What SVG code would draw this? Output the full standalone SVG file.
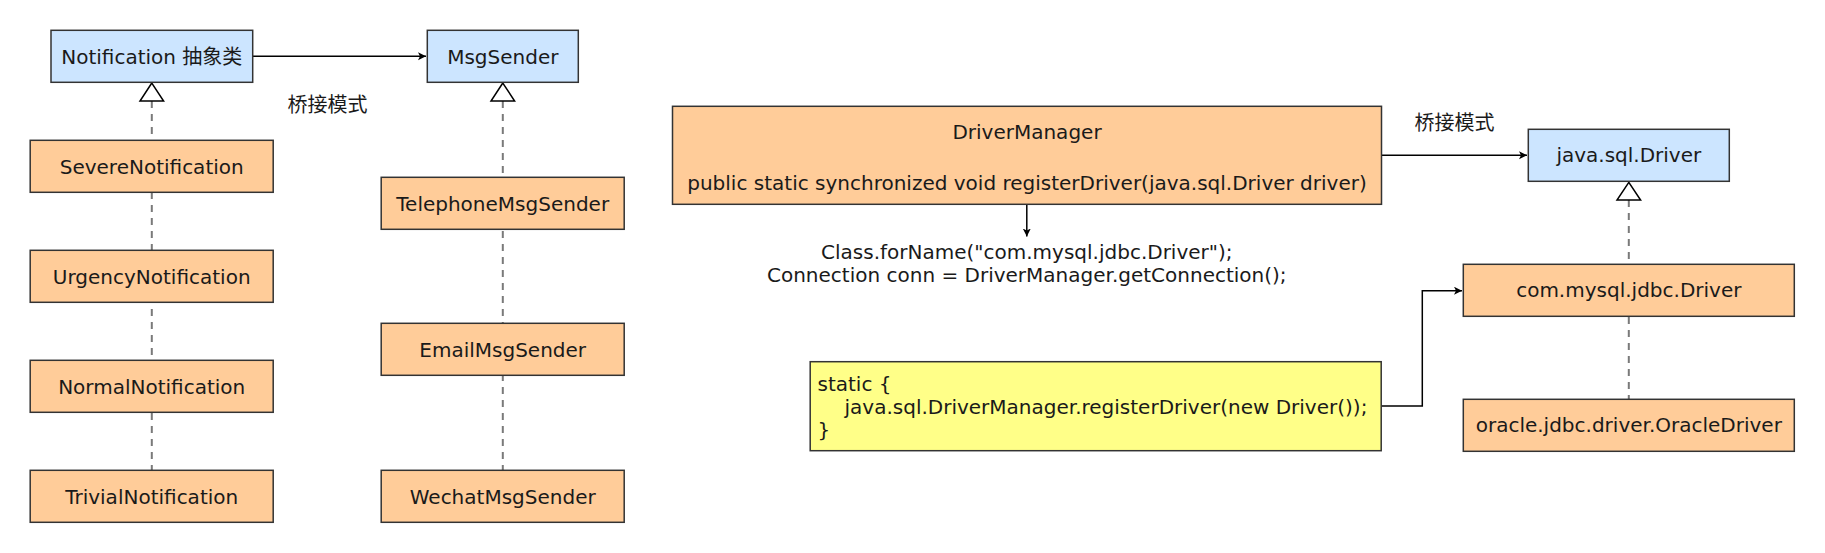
<svg xmlns="http://www.w3.org/2000/svg" width="1825" height="553" viewBox="0 0 1825 553">
<defs>
<style>
.box{stroke:#333;stroke-width:1.5}
.blue{fill:#cce5ff}
.orange{fill:#ffcc99}
.yellow{fill:#ffff88}
text{font-family:"DejaVu Sans","Noto Sans CJK SC",sans-serif;font-size:20px;fill:#1a1a1a}
.c{text-anchor:middle}
.cjk{font-family:"Noto Sans CJK SC",sans-serif}
.edge{fill:none;stroke:#000;stroke-width:1.5}
.dash{fill:none;stroke:#7a7a7a;stroke-width:2;stroke-dasharray:7 6}
.tri{fill:#fff;stroke:#000;stroke-width:1.5}
</style>
<marker id="arr" markerWidth="10" markerHeight="10" refX="8" refY="4" orient="auto" markerUnits="userSpaceOnUse">
<path d="M0,0 L8,4 L0,8 L2,4 z" fill="#000"/>
</marker>
</defs>
<rect width="1825" height="553" fill="#fff"/>
<g id="connectors">
<line class="dash" x1="151.8" y1="101" x2="151.8" y2="470"/>
<line class="dash" x1="502.8" y1="101" x2="502.8" y2="470"/>
<line class="dash" x1="1628.8" y1="200" x2="1628.8" y2="399"/>
<polygon class="tri" points="151.8,83 140,101 163.6,101"/>
<polygon class="tri" points="502.8,83 491,101 514.6,101"/>
<polygon class="tri" points="1628.8,182.3 1617,200 1640.6,200"/>
<path class="edge" d="M252.7,56.3 H426" marker-end="url(#arr)"/>
<path class="edge" d="M1381.6,155.3 H1527" marker-end="url(#arr)"/>
<path class="edge" d="M1026.8,204.3 V236.5" marker-end="url(#arr)"/>
<path class="edge" d="M1381.2,406 H1422.3 V290.7 H1462" marker-end="url(#arr)"/>
</g>
<g id="label-bridge-left"><text class="cjk" x="287.5" y="111.5">桥接模式</text></g>
<g id="label-bridge-right"><text class="cjk" x="1414.5" y="130">桥接模式</text></g>
<g id="notification"><rect class="box blue" x="51" y="30.3" width="201.7" height="52"/><text class="c" x="151.8" y="63.5">Notification 抽象类</text></g>
<g id="msgsender"><rect class="box blue" x="427.3" y="30.3" width="151" height="52"/><text class="c" x="502.8" y="63.5">MsgSender</text></g>
<g id="severe"><rect class="box orange" x="30.2" y="140.3" width="243" height="52"/><text class="c" x="151.7" y="174">SevereNotification</text></g>
<g id="urgency"><rect class="box orange" x="30.2" y="250.3" width="243" height="52"/><text class="c" x="151.7" y="284">UrgencyNotification</text></g>
<g id="normal"><rect class="box orange" x="30.2" y="360.3" width="243" height="52"/><text class="c" x="151.7" y="394">NormalNotification</text></g>
<g id="trivial"><rect class="box orange" x="30.2" y="470.3" width="243" height="52"/><text class="c" x="151.7" y="504">TrivialNotification</text></g>
<g id="telephone"><rect class="box orange" x="381.2" y="177.3" width="243" height="52"/><text class="c" x="502.7" y="211">TelephoneMsgSender</text></g>
<g id="email"><rect class="box orange" x="381.2" y="323.3" width="243" height="52"/><text class="c" x="502.7" y="357">EmailMsgSender</text></g>
<g id="wechat"><rect class="box orange" x="381.2" y="470.3" width="243" height="52"/><text class="c" x="502.7" y="504">WechatMsgSender</text></g>
<g id="drivermanager"><rect class="box orange" x="672.5" y="106.3" width="709" height="98"/><text class="c" x="1027" y="138.5">DriverManager</text><text class="c" x="1027" y="189.5">public static synchronized void registerDriver(java.sql.Driver driver)</text></g>
<g id="classforname"><text class="c" x="1026.8" y="258.5">Class.forName("com.mysql.jdbc.Driver");</text><text class="c" x="1026.8" y="281.5">Connection conn = DriverManager.getConnection();</text></g>
<g id="static-block"><rect class="box yellow" x="810.2" y="361.7" width="571" height="89"/><text x="817.5" y="391">static {</text><text x="844.5" y="414">java.sql.DriverManager.registerDriver(new Driver());</text><text x="817.5" y="437">}</text></g>
<g id="java-sql-driver"><rect class="box blue" x="1528.3" y="129.3" width="201" height="52"/><text class="c" x="1628.8" y="162.3">java.sql.Driver</text></g>
<g id="mysql-driver"><rect class="box orange" x="1463.3" y="264.3" width="331" height="52"/><text class="c" x="1628.8" y="297.3">com.mysql.jdbc.Driver</text></g>
<g id="oracle-driver"><rect class="box orange" x="1463.3" y="399.3" width="331" height="52"/><text class="c" x="1628.8" y="432.3">oracle.jdbc.driver.OracleDriver</text></g>
</svg>
